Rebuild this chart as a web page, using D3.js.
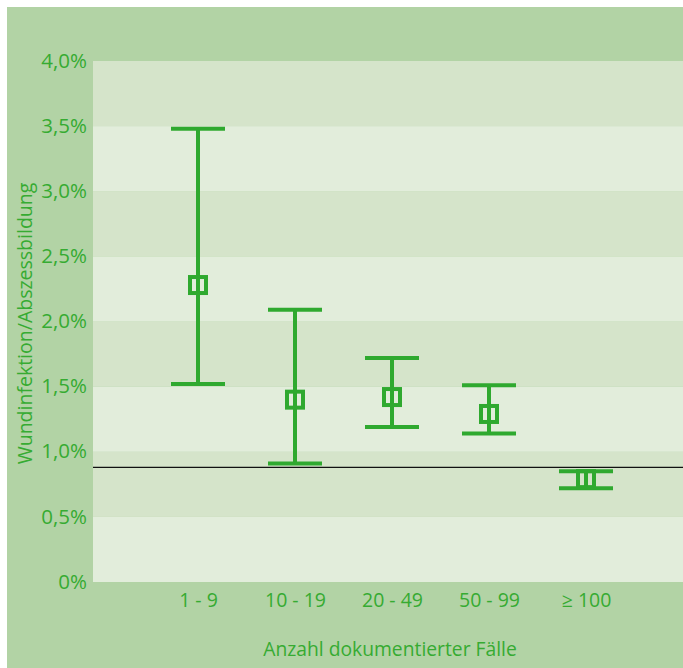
<!DOCTYPE html>
<html><head><meta charset="utf-8">
<script src="https://cdn.jsdelivr.net/npm/d3@7"></script>
<style>html,body{margin:0;padding:0;background:#fff;}svg{display:block;}</style>
</head><body>
<script>
const categories = ["1-9", "10-19", "20-49", "50-99", "≥100"];
const categoryLabels = ["1 - 9", "10 - 19", "20 - 49", "50 - 99", "≥ 100"];
const pointValues = [2.28, 1.40, 1.42, 1.29, 0.79];
const lowerValues = [1.52, 0.91, 1.19, 1.14, 0.72];
const upperValues = [3.48, 2.09, 1.72, 1.51, 0.85];
const referenceValue = 0.88;
const yTicks = [0, 0.5, 1.0, 1.5, 2.0, 2.5, 3.0, 3.5, 4.0];
const xTitle = "Anzahl dokumentierter Fälle";
const yTitle = "Wundinfektion/Abszessbildung";

const W = 683, H = 668;
const green = "#2fa92f", textGreen = "#36ab32";
const font = "'Open Sans', sans-serif";
const svg = d3.select("body").append("svg").attr("width", W).attr("height", H);
svg.append("rect").attr("x", 7).attr("y", 7).attr("width", W - 7).attr("height", H - 7).attr("fill", "#b2d3a5");

const plot = {left: 93, right: 683, top: 61, bottom: 582};
const y = d3.scaleLinear().domain([0, 4]).range([plot.bottom, plot.top]);
const x = d3.scalePoint().domain(categories).range([198, 586]);

// bands
const bands = d3.pairs(yTicks);
svg.selectAll("rect.band").data(bands).join("rect")
  .attr("x", plot.left).attr("width", plot.right - plot.left)
  .attr("y", d => y(d[1])).attr("height", d => y(d[0]) - y(d[1]))
  .attr("fill", (d, i) => i % 2 === 0 ? "#e2eddb" : "#d5e4ca");

// y axis labels
const fmt = v => v === 0 ? "0%" : d3.format(".1f")(v).replace(".", ",") + "%";
const yAxis = d3.axisLeft(y).tickValues(yTicks).tickFormat(fmt).tickSize(0).tickPadding(6);
const gy = svg.append("g").attr("transform", `translate(${plot.left},0)`).call(yAxis);
gy.select(".domain").remove();
gy.selectAll("text").attr("fill", textGreen).style("font-family", font).style("font-size", "20.5px").attr("dy", "0.3em");

// x axis labels
const xAxis = d3.axisBottom(x).tickFormat((d, i) => categoryLabels[i]).tickSize(0).tickPadding(0);
const gx = svg.append("g").attr("transform", `translate(0,${plot.bottom})`).call(xAxis);
gx.select(".domain").remove();
gx.selectAll("text").attr("fill", textGreen).style("font-family", font).style("font-size", "19.5px").attr("y", 25).attr("dy", 0);

// titles
svg.append("text").attr("x", (plot.left + plot.right) / 2 + 2).attr("y", 656).attr("text-anchor", "middle")
  .attr("fill", textGreen).style("font-family", font).style("font-size", "19.3px").text(xTitle);
svg.append("text").attr("transform", `translate(32,${(plot.top + plot.bottom) / 2 + 2}) rotate(-90)`).attr("text-anchor", "middle")
  .attr("fill", textGreen).style("font-family", font).style("font-size", "19.5px").text(yTitle);

// reference line
svg.append("line").attr("x1", plot.left).attr("x2", plot.right)
  .attr("y1", y(referenceValue)).attr("y2", y(referenceValue)).attr("stroke", "#111").attr("stroke-width", 1.3);

// error bars
const data = categories.map((c, i) => ({c, p: pointValues[i], lo: lowerValues[i], hi: upperValues[i]}));
const g = svg.append("g").attr("stroke", green).attr("stroke-width", 4).attr("fill", "none");
const capW = 27;
g.selectAll("line.v").data(data).join("line")
  .attr("x1", d => x(d.c)).attr("x2", d => x(d.c)).attr("y1", d => y(d.hi)).attr("y2", d => y(d.lo));
g.selectAll("line.hi").data(data).join("line")
  .attr("x1", d => x(d.c) - capW).attr("x2", d => x(d.c) + capW).attr("y1", d => y(d.hi)).attr("y2", d => y(d.hi));
g.selectAll("line.lo").data(data).join("line")
  .attr("x1", d => x(d.c) - capW).attr("x2", d => x(d.c) + capW).attr("y1", d => y(d.lo)).attr("y2", d => y(d.lo));
g.selectAll("rect.m").data(data).join("rect")
  .attr("x", d => x(d.c) - 8).attr("y", d => y(d.p) - 8).attr("width", 16).attr("height", 16);
</script>
</body></html>
